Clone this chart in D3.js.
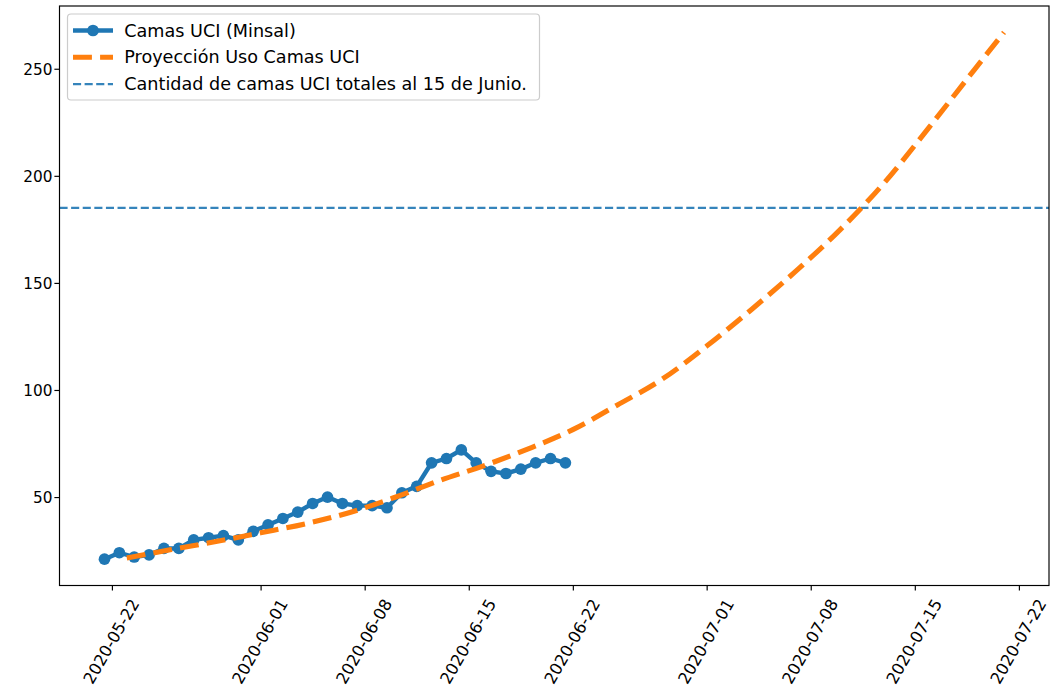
<!DOCTYPE html>
<html>
<head>
<meta charset="utf-8">
<script src="https://cdn.jsdelivr.net/npm/d3@7"></script>
<style>
  body { margin: 0; background: #ffffff; }
  text { font-family: "DejaVu Sans", sans-serif; fill: #000; }
</style>
</head>
<body>
<svg id="chart" width="1051" height="696"></svg>
<script>
// ICU beds in use (daily report), one reading per day
const uciDates = [
  "2020-05-21 12:00", "2020-05-22 12:00", "2020-05-23 12:00", "2020-05-24 12:00",
  "2020-05-25 12:00", "2020-05-26 12:00", "2020-05-27 12:00", "2020-05-28 12:00",
  "2020-05-29 12:00", "2020-05-30 12:00", "2020-05-31 12:00", "2020-06-01 12:00",
  "2020-06-02 12:00", "2020-06-03 12:00", "2020-06-04 12:00", "2020-06-05 12:00",
  "2020-06-06 12:00", "2020-06-07 12:00", "2020-06-08 12:00", "2020-06-09 12:00",
  "2020-06-10 12:00", "2020-06-11 12:00", "2020-06-12 12:00", "2020-06-13 12:00",
  "2020-06-14 12:00", "2020-06-15 12:00", "2020-06-16 12:00", "2020-06-17 12:00",
  "2020-06-18 12:00", "2020-06-19 12:00", "2020-06-20 12:00", "2020-06-21 12:00"
];
const uciBeds = [
  21, 24, 22, 23, 26, 26, 30, 31, 32, 30, 34, 37, 40, 43, 47, 50,
  47, 46, 46, 45, 52, 55, 66, 68, 72, 66, 62, 61, 63, 66, 68, 66
];

// Projected ICU bed usage
const projDates = [
  "2020-05-23 00:00", "2020-05-26 00:00", "2020-05-29 00:00", "2020-06-01 00:00",
  "2020-06-04 00:00", "2020-06-07 00:00", "2020-06-10 00:00", "2020-06-13 00:00",
  "2020-06-16 00:00", "2020-06-19 00:00", "2020-06-22 00:00", "2020-06-25 00:00",
  "2020-06-28 00:00", "2020-07-01 00:00", "2020-07-04 00:00", "2020-07-07 00:00",
  "2020-07-10 00:00", "2020-07-13 00:00", "2020-07-16 00:00", "2020-07-19 00:00",
  "2020-07-21 00:00"
];
const projBeds = [
  21.5, 25.5, 29.2, 33.3, 37.5, 42.8, 49.8, 57.6, 64.6, 72.5, 81.5,
  93, 105, 120.5, 137.5, 155.5, 175, 197.2, 223, 249.5, 267
];

// Total ICU beds available on June 15
const capacityBeds = 185;

const xTickLabels = [
  "2020-05-22", "2020-06-01", "2020-06-08", "2020-06-15", "2020-06-22",
  "2020-07-01", "2020-07-08", "2020-07-15", "2020-07-22"
];
const yTickValues = [50, 100, 150, 200, 250];

const legendLabels = [
  "Camas UCI (Minsal)",
  "Proyección Uso Camas UCI",
  "Cantidad de camas UCI totales al 15 de Junio."
];

const C0 = "#1f77b4", C1 = "#ff7f0e";
const S = 1.46;                 // pixels per point
const xTickFont = 16.3;
const yTickFont = 15.3;
const legendFont = 17.6;

const svg = d3.select("#chart");
const plot = { left: 59.5, right: 1049, top: 6, bottom: 585.5 };

const parse = d3.timeParse("%Y-%m-%d %H:%M");
const parseDay = d3.timeParse("%Y-%m-%d");
const uci = uciDates.map((d, i) => ({ date: parse(d), v: uciBeds[i] }));
const proj = projDates.map((d, i) => ({ date: parse(d), v: projBeds[i] }));

// Autoscale with 5% margins on both axes
const allDates = uci.map(d => d.date).concat(proj.map(d => d.date));
const [x0, x1] = d3.extent(allDates);
const xPad = (x1 - x0) * 0.05;
const x = d3.scaleTime()
  .domain([new Date(+x0 - xPad), new Date(+x1 + xPad)])
  .range([plot.left, plot.right]);

const allVals = uciBeds.concat(projBeds);
const [y0, y1] = d3.extent(allVals);
const yPad = (y1 - y0) * 0.05;
const y = d3.scaleLinear()
  .domain([y0 - yPad, y1 + yPad])
  .range([plot.bottom, plot.top]);

svg.append("defs").append("clipPath").attr("id", "plot-clip")
  .append("rect")
  .attr("x", plot.left).attr("y", plot.top)
  .attr("width", plot.right - plot.left).attr("height", plot.bottom - plot.top);

const g = svg.append("g").attr("clip-path", "url(#plot-clip)");

// Capacity reference line
g.append("line")
  .attr("x1", plot.left).attr("x2", plot.right)
  .attr("y1", y(capacityBeds)).attr("y2", y(capacityBeds))
  .attr("stroke", C0).attr("stroke-opacity", 0.9)
  .attr("stroke-width", 1.5 * S)
  .attr("stroke-dasharray", `${3.7 * 1.5 * S},${1.6 * 1.5 * S}`);

// Observed series
const line = d3.line().x(d => x(d.date)).y(d => y(d.v));
g.append("path").datum(uci)
  .attr("d", line)
  .attr("fill", "none").attr("stroke", C0)
  .attr("stroke-width", 3 * S).attr("stroke-linejoin", "round");
g.selectAll("circle.obs").data(uci).enter().append("circle")
  .attr("class", "obs")
  .attr("cx", d => x(d.date)).attr("cy", d => y(d.v))
  .attr("r", 4 * S).attr("fill", C0);

// Projection
const smooth = d3.line().x(d => x(d.date)).y(d => y(d.v)).curve(d3.curveMonotoneX);
g.append("path").datum(proj)
  .attr("d", smooth)
  .attr("fill", "none").attr("stroke", C1)
  .attr("stroke-width", 3.5 * S)
  .attr("stroke-dasharray", `${3.7 * 3.5 * S},${1.6 * 3.5 * S}`);

// Axes
const tickLen = 3.5 * S, tickPad = 3.5 * S;
const xAxis = d3.axisBottom(x)
  .tickValues(xTickLabels.map(parseDay))
  .tickFormat(d3.timeFormat("%Y-%m-%d"))
  .tickSize(tickLen).tickPadding(tickPad);
const xg = svg.append("g")
  .attr("transform", `translate(0,${plot.bottom})`)
  .call(xAxis);
xg.select(".domain").remove();
xg.selectAll(".tick line").attr("stroke", "#000").attr("stroke-width", 0.8 * S);
xg.selectAll(".tick text")
  .style("font-size", xTickFont + "px")
  .style("font-family", "DejaVu Sans")
  .each(function () {
    const w = this.getComputedTextLength();
    const h = xTickFont * 1.17;
    const a = Math.PI / 3;
    const halfH = (w * Math.sin(a) + h * Math.cos(a)) / 2;
    d3.select(this)
      .attr("x", 0).attr("y", 0).attr("dy", null)
      .attr("text-anchor", "middle")
      .attr("dominant-baseline", "central")
      .attr("transform", `translate(-1,${tickLen + tickPad + halfH}) rotate(-60)`);
  });

const yAxis = d3.axisLeft(y)
  .tickValues(yTickValues)
  .tickSize(tickLen).tickPadding(2);
const yg = svg.append("g")
  .attr("transform", `translate(${plot.left},0)`)
  .call(yAxis);
yg.select(".domain").remove();
yg.selectAll(".tick line").attr("stroke", "#000").attr("stroke-width", 0.8 * S);
yg.selectAll(".tick text")
  .style("font-size", yTickFont + "px")
  .style("font-family", "DejaVu Sans")
  .attr("dy", "0.35em");

// Frame
svg.append("rect")
  .attr("x", plot.left).attr("y", plot.top)
  .attr("width", plot.right - plot.left).attr("height", plot.bottom - plot.top)
  .attr("fill", "none").attr("stroke", "#000").attr("stroke-width", 0.8 * S);

// Legend
const lg = svg.append("g");
const lgX = plot.left + 8, lgY = plot.top + 8;
const rowH = 26.8;
lg.append("rect")
  .attr("x", lgX).attr("y", lgY)
  .attr("width", 472).attr("height", 86)
  .attr("rx", 3.5)
  .attr("fill", "#fff").attr("fill-opacity", 0.8)
  .attr("stroke", "#cccccc").attr("stroke-width", 1.2);

const hx0 = lgX + 5.5, hx1 = hx0 + 40;
const rows = legendLabels.map((t, i) => lgY + 16.5 + i * rowH);

lg.append("line")
  .attr("x1", hx0).attr("x2", hx1).attr("y1", rows[0]).attr("y2", rows[0])
  .attr("stroke", C0).attr("stroke-width", 3 * S);
lg.append("circle")
  .attr("cx", (hx0 + hx1) / 2).attr("cy", rows[0]).attr("r", 4 * S).attr("fill", C0);

lg.append("line")
  .attr("x1", hx0).attr("x2", hx1).attr("y1", rows[1]).attr("y2", rows[1])
  .attr("stroke", C1).attr("stroke-width", 3.5 * S)
  .attr("stroke-dasharray", `${3.7 * 3.5 * S},${1.6 * 3.5 * S}`);

lg.append("line")
  .attr("x1", hx0).attr("x2", hx1).attr("y1", rows[2]).attr("y2", rows[2])
  .attr("stroke", C0).attr("stroke-opacity", 0.9).attr("stroke-width", 1.5 * S)
  .attr("stroke-dasharray", `${3.7 * 1.5 * S},${1.6 * 1.5 * S}`);

lg.selectAll("text.lab").data(legendLabels).enter().append("text")
  .attr("class", "lab")
  .attr("x", hx1 + 11.3)
  .attr("y", (d, i) => rows[i])
  .attr("dy", "0.35em")
  .style("font-size", legendFont + "px")
  .text(d => d);
</script>
</body>
</html>
